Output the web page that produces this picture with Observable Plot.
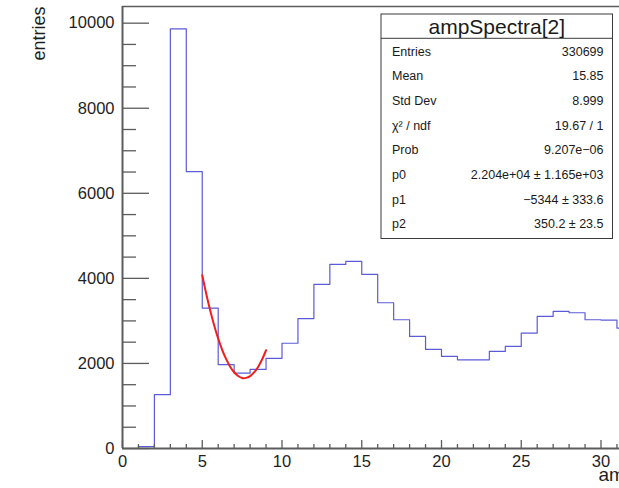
<!DOCTYPE html>
<html><head><meta charset="utf-8">
<script src="https://cdn.jsdelivr.net/npm/d3@7"></script>
<script src="https://cdn.jsdelivr.net/npm/@observablehq/plot@0.6"></script>
<style>html,body{margin:0;padding:0;background:#fff;overflow:hidden;width:619px;height:488px}
#chart svg{max-width:none !important;}</style>
</head><body><div id="chart"></div>
<script>
// ---- data ----
const binEdges = [0,1,2,3,4,5,6,7,8,9,10,11,12,13,14,15,16,17,18,19,20,21,22,23,24,25,26,27,28,29,30,31,32];
const counts   = [0,46,1265,9868,6510,3302,1970,1772,1858,2120,2475,3055,3859,4329,4400,4094,3427,3027,2635,2329,2165,2086,2086,2282,2400,2714,3106,3224,3192,3027,3020,2831];
const fitX = [5,5.25,5.5,5.75,6,6.25,6.5,6.75,7,7.25,7.5,7.75,8,8.25,8.5,8.75,9];
const fitY = [4075,3639,3242,2890,2583,2320,2100,1924,1792,1704,1659,1660,1701,1788,1918,2092,2310];
const xMajorTicks = [0,5,10,15,20,25,30,35];
const xTickLabels = [0,5,10,15,20,25,30];
const yMajorTicks = [0,2000,4000,6000,8000,10000];
const histName = "ampSpectra[2]";
const statLabels = ["Entries","Mean","Std Dev","\u03C7\u00B2 / ndf","Prob","p0","p1","p2"];
const statValues = ["330699","15.85","8.999","19.67 / 1","9.207e\u221206","2.204e+04 \u00B1 1.165e+03","\u22125344 \u00B1 333.6","350.2 \u00B1 23.5"];
const yTitle = "entries";
const xTitle = "amplitude";

// ---- layout ----
const W = 700, H = 488, mL = 122, mT = 6, mB = 40, pxPerUnit = 15.95, xMax = 35, yMax = 10392;
const mR = W - mL - xMax * pxPerUnit;
const frameH = H - mT - mB, frameW = W - mL - mR;
const axisColor = "#5c5c5c";
const font = "'Liberation Sans', Arimo, Arial, Helvetica, sans-serif";

const hist = counts.map((c, i) => ({x: binEdges[i], y: c}))
  .concat([{x: binEdges[binEdges.length - 1], y: counts[counts.length - 1]}]);
const fit = fitX.map((x, i) => ({x, y: fitY[i]}));
const xMinor = d3.range(0, xMax + 1).filter(v => !xMajorTicks.includes(v));
const yMinor = d3.range(0, 10001, 500).filter(v => !yMajorTicks.includes(v));

const plot = Plot.plot({
  width: W, height: H,
  marginLeft: mL, marginRight: mR, marginTop: mT, marginBottom: mB,
  style: {fontFamily: font, color: "#1e1e1e", background: "#fff", overflow: "visible", maxWidth: "none"},
  x: {domain: [0, xMax]},
  y: {domain: [0, yMax]},
  marks: [
    Plot.line(hist, {x: "x", y: "y", curve: "step-after", stroke: "#5b5bd8", strokeWidth: 1.2}),
    Plot.line(fit, {x: "x", y: "y", curve: "catmull-rom", stroke: "#f01e1e", strokeWidth: 2}),
    Plot.ruleY([yMax], {stroke: axisColor, strokeWidth: 1.5}),
    Plot.tickX(xMajorTicks, {x: d => d, insetTop: frameH - 8, stroke: axisColor, strokeWidth: 1.3}),
    Plot.tickX(xMinor, {x: d => d, insetTop: frameH - 4, stroke: axisColor, strokeWidth: 1.3}),
    Plot.tickY(yMajorTicks, {y: d => d, insetRight: frameW - 27, stroke: axisColor, strokeWidth: 1.3}),
    Plot.tickY(yMinor, {y: d => d, insetRight: frameW - 14, stroke: axisColor, strokeWidth: 1.3}),
    Plot.ruleX([0], {stroke: axisColor, strokeWidth: 2}),
    Plot.ruleY([0], {stroke: axisColor, strokeWidth: 2}),
    Plot.axisX({ticks: xTickLabels, tickSize: 0, tickPadding: 7, fontSize: 16.5, label: null, tickFormat: "d"}),
    Plot.axisY({ticks: yMajorTicks, tickSize: 0, tickPadding: 8, fontSize: 16.5, label: null, tickFormat: "d"}),
    Plot.text([yTitle], {frameAnchor: "top-left", text: d => d, rotate: -90, textAnchor: "end", dx: -90, fontSize: 18}),
    Plot.text([xTitle], {frameAnchor: "bottom-left", text: d => d, textAnchor: "start", dx: 476, dy: 32, fontSize: 19})
  ]
});
plot.style.maxWidth = "none";
plot.setAttribute("width", W);
document.getElementById("chart").appendChild(plot);

// ---- statistics box ----
const svg = d3.select(plot);
const box = {x0: 381, y0: 14, x1: 612.5, y1: 238.5, sep: 38.3};
const g = svg.append("g").attr("font-family", font).attr("fill", "#1a1a1a");
g.append("rect").attr("x", box.x0).attr("y", box.y0)
  .attr("width", box.x1 - box.x0).attr("height", box.y1 - box.y0)
  .attr("fill", "#fff").attr("stroke", "#3a3a3a").attr("stroke-width", 1);
g.append("line").attr("x1", box.x0).attr("x2", box.x1).attr("y1", box.sep).attr("y2", box.sep)
  .attr("stroke", "#3a3a3a").attr("stroke-width", 1);
g.append("text").attr("x", (box.x0 + box.x1) / 2).attr("y", (box.y0 + box.sep) / 2)
  .attr("dy", "0.36em").attr("text-anchor", "middle").attr("font-size", 21).text(histName);
statLabels.forEach((lab, i) => {
  const y = 51 + i * 24.7;
  g.append("text").attr("x", 392).attr("y", y).attr("dy", "0.36em").attr("text-anchor", "start")
    .attr("font-size", 12.5).text(lab);
  g.append("text").attr("x", 603.5).attr("y", y).attr("dy", "0.36em").attr("text-anchor", "end")
    .attr("font-size", 12.5).text(statValues[i]);
});
</script></body></html>
